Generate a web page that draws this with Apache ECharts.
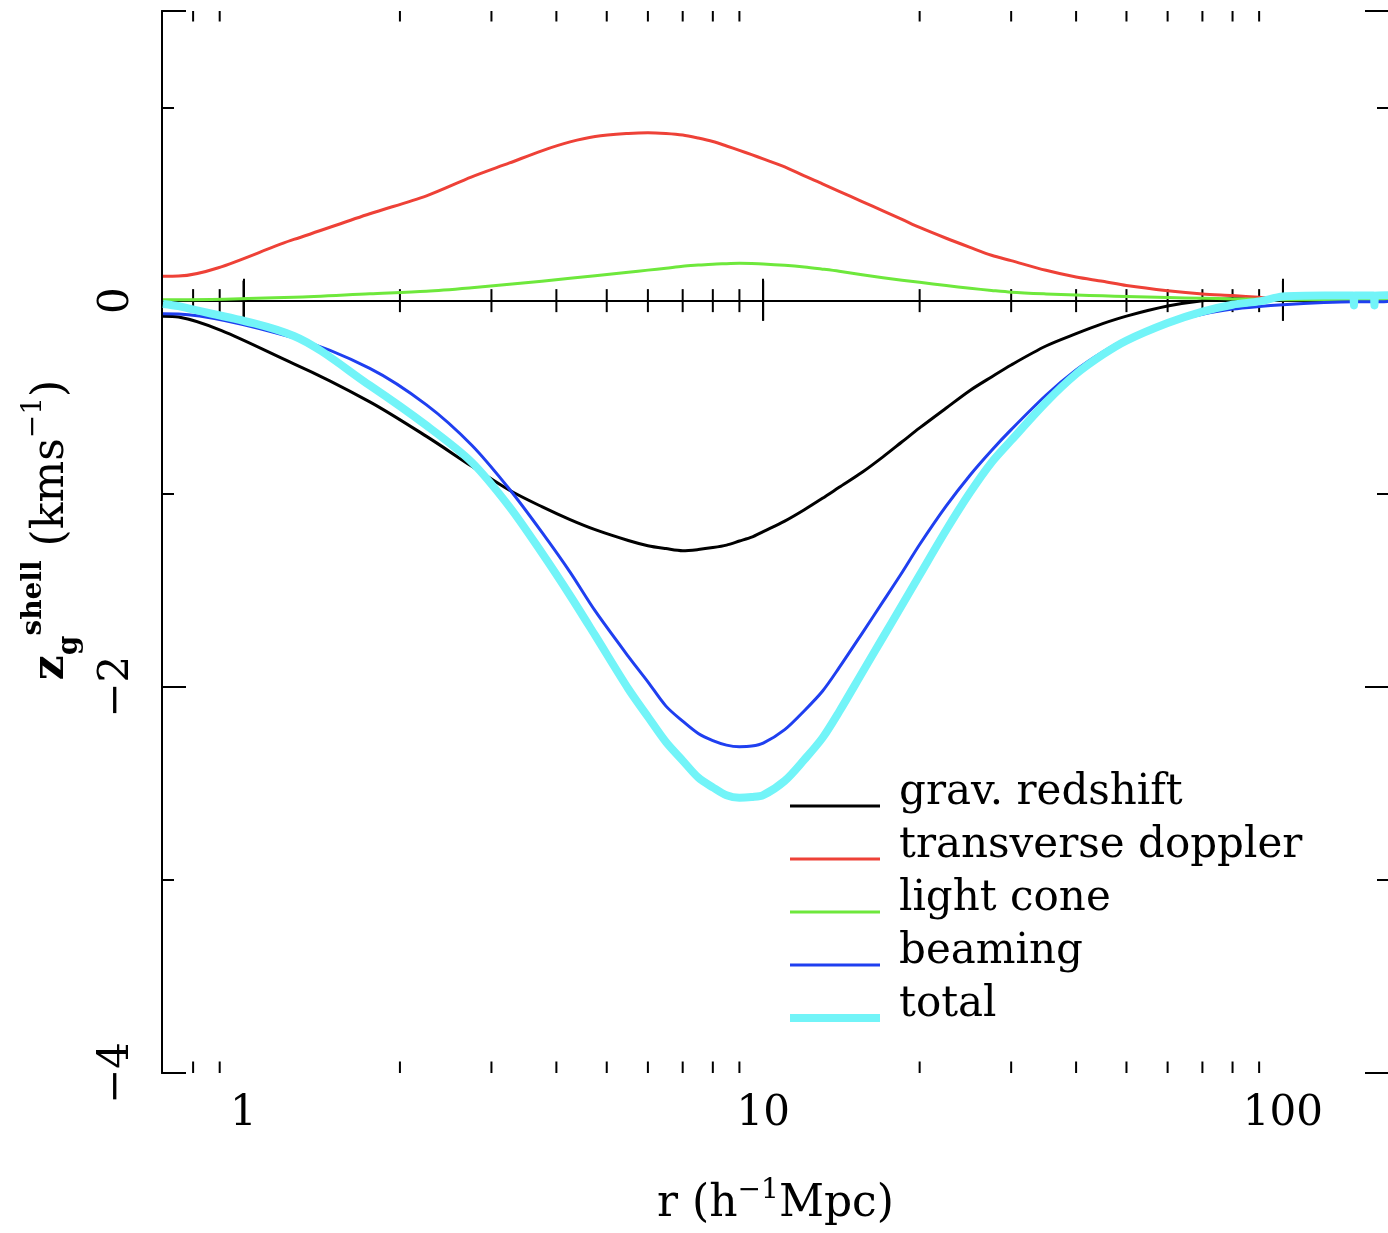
<!DOCTYPE html>
<html>
<head>
<meta charset="utf-8">
<script src="https://cdn.jsdelivr.net/npm/echarts@6/dist/echarts.min.js"></script>
<style>
  html, body { margin: 0; padding: 0; background: #fff; }
  #chart { width: 1388px; height: 1233px; }
</style>
</head>
<body>
<div id="chart"></div>
<script>
// Shell radius r (h^-1 Mpc); the profile is sampled on a 0.5 grid at small r.
const r = [0.7, 0.75, 1.25, 1.75, 2.25, 2.75, 3.25, 3.75, 4.25, 4.75, 5.5, 6, 6.5, 7, 7.5, 8, 8.5, 9, 9.5, 10,
           11, 12, 13, 14, 15.5, 17, 18.5, 20, 22.5, 25, 27.5, 30, 35, 40, 45, 50, 60, 70, 80, 90, 100, 120,
           136.5, 137, 137.5, 149.5, 150, 150.5, 160];

// Contributions to z_g^shell (km s^-1)
const gravRedshift = [-0.081, -0.085, -0.327, -0.524, -0.703, -0.858, -0.982, -1.067, -1.134, -1.186, -1.242, -1.269, -1.284, -1.295, -1.289, -1.279, -1.266, -1.245, -1.225, -1.196,
                      -1.142, -1.083, -1.024, -0.967, -0.889, -0.809, -0.731, -0.659, -0.556, -0.465, -0.395, -0.333, -0.235, -0.171, -0.119, -0.080, -0.028, 0.000, 0.010, 0.013, 0.013, 0.012,
                      0.011, 0.011, 0.011, 0.011, 0.011, 0.011, 0.010];
const transverseDoppler = [0.126, 0.127, 0.317, 0.450, 0.543, 0.641, 0.713, 0.776, 0.822, 0.850, 0.866, 0.870, 0.866, 0.858, 0.842, 0.824, 0.801, 0.778, 0.756, 0.734,
                           0.693, 0.646, 0.605, 0.566, 0.513, 0.465, 0.421, 0.379, 0.323, 0.276, 0.235, 0.207, 0.157, 0.122, 0.100, 0.078, 0.051, 0.034, 0.026, 0.017, 0.010, 0.006,
                           0.004, 0.004, 0.004, 0.003, 0.003, 0.003, 0.003];
const lightCone = [0.005, 0.005, 0.018, 0.036, 0.049, 0.067, 0.085, 0.101, 0.116, 0.129, 0.147, 0.158, 0.168, 0.178, 0.184, 0.189, 0.191, 0.193, 0.192, 0.190,
                   0.183, 0.174, 0.163, 0.152, 0.134, 0.119, 0.106, 0.095, 0.078, 0.064, 0.053, 0.044, 0.035, 0.029, 0.025, 0.021, 0.016, 0.012, 0.009, 0.007, 0.005, 0.004,
                   0.003, 0.003, 0.003, 0.003, 0.003, 0.003, 0.003];
const beaming = [-0.068, -0.069, -0.193, -0.351, -0.540, -0.749, -0.977, -1.199, -1.406, -1.607, -1.842, -1.974, -2.100, -2.178, -2.242, -2.279, -2.302, -2.310, -2.307, -2.292,
                 -2.222, -2.124, -2.023, -1.901, -1.723, -1.559, -1.408, -1.263, -1.063, -0.904, -0.776, -0.668, -0.490, -0.359, -0.266, -0.198, -0.117, -0.071, -0.044, -0.030, -0.021, -0.010,
                 -0.006, -0.006, -0.006, -0.006, -0.006, -0.006, -0.004];
const total = [-0.017, -0.029, -0.183, -0.439, -0.647, -0.837, -1.068, -1.306, -1.527, -1.734, -2.010, -2.155, -2.286, -2.382, -2.470, -2.521, -2.562, -2.575, -2.571, -2.561,
               -2.487, -2.377, -2.265, -2.129, -1.927, -1.744, -1.576, -1.421, -1.188, -0.994, -0.838, -0.724, -0.527, -0.380, -0.280, -0.207, -0.116, -0.057, -0.021, -0.004, 0.021, 0.026,
               0.026, -0.025, 0.026, 0.026, -0.025, 0.026, 0.028];

// Axis ticks
const majorTicksX = [1, 10, 100];
const minorTicksX = [0.8, 0.9, 2, 3, 4, 5, 6, 7, 8, 9, 20, 30, 40, 50, 60, 70, 80, 90];
const yLabelValues = [0, -2, -4];

const seriesNames = ['grav. redshift', 'transverse doppler', 'light cone', 'beaming', 'total'];
const seriesValues = [gravRedshift, transverseDoppler, lightCone, beaming, total];
const seriesColors = ['#000000', '#ee4137', '#6ee83c', '#1f3ff0', '#72f4f8'];
const seriesWidths = [3, 3, 3, 3, 8];

const FONT = 'DejaVu Serif';
const INK = '#000';

function pairs(ys) { return r.map((x, i) => [x, ys[i]]); }
function signed(v) { return String(v).replace('-', '\u2212'); }
function isMajorX(v) { return majorTicksX.some(m => Math.abs(v - m) < 1e-6 * m); }

const axisLine = { show: true, lineStyle: { color: INK, width: 2 } };
const tickStyle = { color: INK, width: 2 };

const yBase = {
  type: 'value', min: -4, max: 1.5, gridIndex: 0,
  axisLine: axisLine, splitLine: { show: false }, nameMoveOverlap: false
};

const xBase = {
  type: 'log', logBase: 10, min: 0.697, max: 160, gridIndex: 0,
  axisLine: axisLine, splitLine: { show: false }, minorTick: { show: false }, nameMoveOverlap: false
};

const lineSeries = seriesNames.map((name, i) => ({
  name: name,
  type: 'line',
  xAxisIndex: 0,
  yAxisIndex: 0,
  data: pairs(seriesValues[i]),
  symbol: 'none',
  showSymbol: false,
  smooth: 0.3,
  clip: true,
  z: 3,
  lineStyle: { color: seriesColors[i], width: seriesWidths[i], join: 'round', cap: 'butt' },
  itemStyle: { color: seriesColors[i] },
  emphasis: { disabled: true }
}));

// Zero line across the frame
lineSeries[0].markLine = {
  silent: true,
  z: 1,
  symbol: ['none', 'none'],
  label: { show: false },
  lineStyle: { color: INK, width: 2, type: 'solid' },
  emphasis: { disabled: true },
  data: [{ yAxis: 0 }]
};

// Logarithmic minor ticks on the frame, plus the ticks that cross the zero line
const tickSeries = {
  type: 'custom',
  name: 'ticks',
  silent: true,
  z: 1,
  xAxisIndex: 0,
  yAxisIndex: 0,
  encode: { x: 0, y: 1 },
  data: minorTicksX.map(v => [v, 0, 0]).concat(majorTicksX.map(v => [v, 0, 1])),
  renderItem: function (params, api) {
    const p = api.coord([api.value(0), 0]);
    const x = p[0], y0 = p[1];
    const cs = params.coordSys;
    const major = api.value(2) === 1;
    const st = { stroke: INK, lineWidth: 2 };
    const h = major ? 20 : 11.5;
    const kids = [{ type: 'line', shape: { x1: x, y1: y0 - h, x2: x, y2: y0 + h }, style: st }];
    if (!major) {
      kids.push({ type: 'line', shape: { x1: x, y1: cs.y, x2: x, y2: cs.y + 10.5 }, style: st });
      kids.push({ type: 'line', shape: { x1: x, y1: cs.y + cs.height - 11.5, x2: x, y2: cs.y + cs.height }, style: st });
    }
    return { type: 'group', children: kids };
  }
};

const option = {
  animation: false,
  backgroundColor: '#fff',
  tooltip: { show: false },
  grid: { left: 162, top: 11, width: 1227, height: 1062, outerBoundsMode: 'none', containLabel: false },
  legend: {
    data: seriesNames.map((n, i) => ({
      name: n,
      lineStyle: { width: seriesWidths[i], color: seriesColors[i] },
      itemStyle: { opacity: 0 }
    })),
    orient: 'vertical',
    left: 786,
    top: 772,
    padding: 0,
    itemWidth: 90,
    itemHeight: 12,
    itemGap: -15,
    selectedMode: false,
    formatter: name => '{t|' + name + '}',
    textStyle: {
      fontFamily: FONT, fontSize: 42, color: INK,
      rich: { t: { fontFamily: FONT, fontSize: 42, color: INK, lineHeight: 42, padding: [0, 0, 26, 14] } }
    }
  },
  xAxis: [
    Object.assign({}, xBase, {
      position: 'bottom',
      axisTick: { show: true, inside: true, length: 22, lineStyle: tickStyle },
      axisLabel: {
        show: true, margin: 20, fontFamily: FONT, fontSize: 42, color: INK,
        formatter: v => isMajorX(v) ? String(Math.round(v)) : ''
      },
      name: 'r (h{s|\u22121}Mpc)',
      nameLocation: 'middle',
      nameGap: 104,
      nameTextStyle: {
        fontFamily: FONT, fontSize: 44, color: INK, lineHeight: 56,
        rich: { s: { fontFamily: FONT, fontSize: 28, color: INK, lineHeight: 28, verticalAlign: 'top' } }
      }
    }),
    Object.assign({}, xBase, {
      position: 'top',
      axisTick: { show: true, inside: true, length: 20, lineStyle: tickStyle },
      axisLabel: { show: false }
    })
  ],
  yAxis: [
    Object.assign({}, yBase, {
      position: 'left', interval: 1,
      axisTick: { show: true, inside: true, length: 12, lineStyle: tickStyle },
      axisLabel: { show: false },
      name: '{z|z}{g|g}{sh|shell} (kms{s|\u22121})',
      nameLocation: 'middle',
      nameGap: 78,
      nameTextStyle: {
        fontFamily: FONT, fontSize: 44, color: INK, lineHeight: 64, padding: [0, 0, 0, 24],
        rich: {
          z: { fontFamily: FONT, fontSize: 44, fontWeight: 'bold', color: INK },
          g: { fontFamily: FONT, fontSize: 28, fontWeight: 'bold', color: INK, lineHeight: 28, verticalAlign: 'bottom' },
          sh: { fontFamily: FONT, fontSize: 28, fontWeight: 'bold', color: INK, lineHeight: 28, verticalAlign: 'top' },
          s: { fontFamily: FONT, fontSize: 28, color: INK, lineHeight: 28, verticalAlign: 'top' }
        }
      }
    }),
    Object.assign({}, yBase, {
      position: 'left', interval: 2,
      axisTick: { show: true, inside: true, length: 24, lineStyle: tickStyle },
      axisLabel: {
        show: true, rotate: 90, margin: 24, fontFamily: FONT, fontSize: 42, color: INK,
        formatter: v => yLabelValues.includes(v) ? signed(v) : ''
      }
    }),
    Object.assign({}, yBase, {
      position: 'right', interval: 1,
      axisTick: { show: true, inside: true, length: 12, lineStyle: tickStyle },
      axisLabel: { show: false }
    }),
    Object.assign({}, yBase, {
      position: 'right', interval: 2,
      axisTick: { show: true, inside: true, length: 24, lineStyle: tickStyle },
      axisLabel: { show: false }
    })
  ],
  series: [tickSeries].concat(lineSeries)
};

const chart = echarts.init(document.getElementById('chart'), null, { renderer: 'canvas' });
chart.setOption(option);
</script>
</body>
</html>
